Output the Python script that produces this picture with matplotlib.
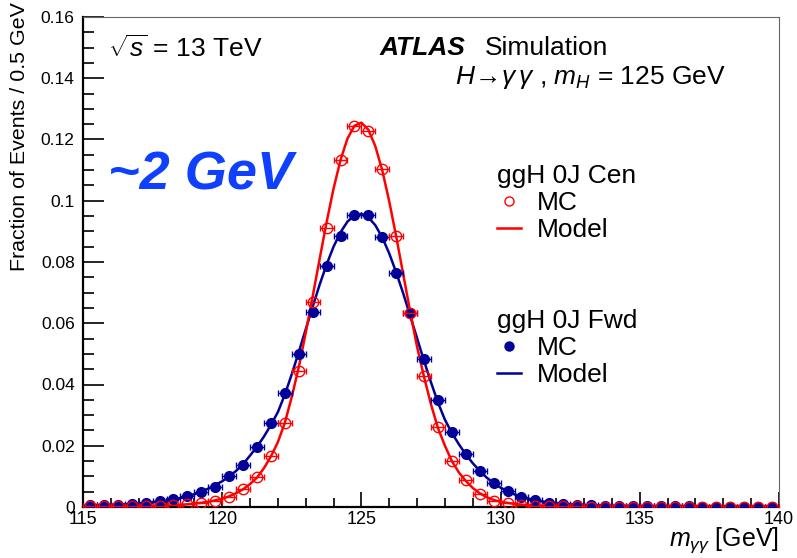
import numpy as np
import matplotlib
matplotlib.use("Agg")
import matplotlib.pyplot as plt
from matplotlib.lines import Line2D
from matplotlib.ticker import MultipleLocator, FuncFormatter

plt.rcParams['font.family'] = ['Liberation Sans', 'DejaVu Sans']
plt.rcParams['mathtext.fontset'] = 'custom'
plt.rcParams['mathtext.rm'] = 'Liberation Sans'
plt.rcParams['mathtext.it'] = 'Liberation Sans:italic'
plt.rcParams['mathtext.bf'] = 'Liberation Sans:bold'

# bin centres, 0.5 GeV bins
bin_centres = np.arange(115.25, 140.0, 0.5)

# MC, ggH 0J Cen (open red circles)
mc_cen = [0.0002, 0.0002, 0.0002, 0.0002, 0.0003, 0.0003, 0.0005, 0.0009, 0.0014, 0.0020,
          0.0034, 0.0059, 0.0097, 0.0167, 0.0275, 0.0444, 0.0670, 0.0910, 0.1133, 0.1245,
          0.1227, 0.1103, 0.0885, 0.0634, 0.0428, 0.0262, 0.0151, 0.0088, 0.0044, 0.0021,
          0.0012, 0.0006, 0.0004, 0.0003, 0.0002, 0.0002, 0.0001, 0.0001, 0.0001, 0.0001,
          0.0001, 0.0001, 0.0001, 0.0001, 0.0001, 0.0001, 0.0001, 0.0001, 0.0001, 0.0001]

# MC, ggH 0J Fwd (filled blue dots)
mc_fwd = [0.0006, 0.0007, 0.0007, 0.0010, 0.0013, 0.0018, 0.0025, 0.0035, 0.0050, 0.0066,
          0.0101, 0.0138, 0.0197, 0.0273, 0.0373, 0.0500, 0.0638, 0.0788, 0.0886, 0.0953,
          0.0955, 0.0881, 0.0765, 0.0632, 0.0482, 0.0349, 0.0246, 0.0173, 0.0119, 0.0077,
          0.0052, 0.0034, 0.0022, 0.0014, 0.0010, 0.0008, 0.0005, 0.0004, 0.0003, 0.0003,
          0.0002, 0.0002, 0.0002, 0.0002, 0.0001, 0.0001, 0.0001, 0.0001, 0.0001, 0.0001]

# model curves
model_x = [115.0, 116.0, 117.0, 118.0, 118.5, 119.0, 119.5, 120.0, 120.25, 120.5, 120.75,
           121.0, 121.25, 121.5, 121.75, 122.0, 122.25, 122.5, 122.75, 123.0, 123.25,
           123.5, 123.75, 124.0, 124.25, 124.5, 124.75, 125.0, 125.25, 125.5, 125.75,
           126.0, 126.25, 126.5, 126.75, 127.0, 127.25, 127.5, 127.75, 128.0, 128.25,
           128.5, 128.75, 129.0, 129.25, 129.5, 129.75, 130.0, 130.5, 131.0, 131.5,
           132.0, 133.0, 134.0, 136.0, 140.0]
model_cen = [0.00005, 0.0001, 0.0002, 0.0004, 0.0007, 0.0011, 0.0017, 0.0027, 0.0035, 0.0045, 0.0058,
             0.0075, 0.0096, 0.0127, 0.0165, 0.0212, 0.0275, 0.0360, 0.0456, 0.0569, 0.0688,
             0.0810, 0.0930, 0.1040, 0.1133, 0.1203, 0.1245, 0.1255, 0.1232, 0.1178, 0.1099,
             0.0998, 0.0883, 0.0761, 0.0639, 0.0523, 0.0425, 0.0335, 0.0258, 0.0200, 0.0150,
             0.0113, 0.0085, 0.0062, 0.0045, 0.0032, 0.0023, 0.0017, 0.0010, 0.0006, 0.0004,
             0.0003, 0.0002, 0.00015, 0.0001, 0.00005]
model_fwd = [0.0004, 0.0007, 0.0011, 0.0020, 0.0029, 0.0042, 0.0060, 0.0084, 0.0100, 0.0118, 0.0140,
             0.0168, 0.0197, 0.0230, 0.0268, 0.0310, 0.0367, 0.0434, 0.0506, 0.0580, 0.0654,
             0.0726, 0.0792, 0.0850, 0.0897, 0.0932, 0.0952, 0.0957, 0.0946, 0.0920, 0.0880,
             0.0828, 0.0766, 0.0698, 0.0625, 0.0551, 0.0477, 0.0407, 0.0341, 0.0285, 0.0242,
             0.0205, 0.0172, 0.0143, 0.0118, 0.0096, 0.0078, 0.0063, 0.0041, 0.0027, 0.0018,
             0.0012, 0.0006, 0.0004, 0.0002, 0.0001]

red = '#ff0000'
blue = '#000099'

W, H = 797, 558
fig = plt.figure(figsize=(W / 100, H / 100), dpi=100)
ax = fig.add_axes([83 / W, 1 - 507 / H, (779 - 83) / W, (507 - 17) / H])

def fpx(x, y):
    return x / W, 1 - y / H

ax.plot(model_x, model_fwd, color=blue, lw=1.8, zorder=2)
ax.plot(model_x, model_cen, color=red, lw=1.8, zorder=2)
ax.errorbar(bin_centres, mc_fwd, xerr=0.25, fmt='o', color=blue, ms=7, elinewidth=1,
            capsize=2, capthick=1, zorder=3)
ax.errorbar(bin_centres, mc_cen, xerr=0.25, fmt='o', mfc='none', mec=red, ecolor=red,
            ms=7.5, mew=1, elinewidth=1, capsize=2, capthick=1, zorder=4)

ax.set_xlim(115, 140)
ax.set_ylim(0, 0.16)
ax.xaxis.set_major_locator(MultipleLocator(5))
ax.xaxis.set_minor_locator(MultipleLocator(1))
ax.yaxis.set_major_locator(MultipleLocator(0.02))
ax.yaxis.set_minor_locator(MultipleLocator(0.005))
ax.yaxis.set_major_formatter(FuncFormatter(lambda v, p: '%g' % round(v, 3)))
ax.tick_params(which='both', direction='in', top=False, right=False, width=1.2)
ax.tick_params(axis='x', which='major', length=11, labelsize=13, pad=3)
ax.tick_params(axis='x', which='minor', length=6.5)
ax.tick_params(axis='y', which='major', length=15, labelsize=12.5, pad=6)
ax.tick_params(axis='y', which='minor', length=8)
for s in ['left', 'bottom']:
    ax.spines[s].set_linewidth(1.6)
for s in ['top', 'right']:
    ax.spines[s].set_linewidth(0.8)
    ax.spines[s].set_color('#666666')

fig.text(*fpx(20, 2), 'Fraction of Events / 0.5 GeV', rotation=90, ha='center', va='top', fontsize=15.4)
fig.text(*fpx(779, 546), r'$m_{\gamma\gamma}$ [GeV]', ha='right', va='baseline', fontsize=18)

fig.text(*fpx(108, 57), r'$\sqrt{s}$ = 13 TeV', fontsize=19, va='baseline')
fig.text(*fpx(380, 55), 'ATLAS', fontsize=19, weight='bold', style='italic', va='baseline')
fig.text(*fpx(485, 55), 'Simulation', fontsize=19, va='baseline')
fig.text(*fpx(455, 84), r'$H\!\rightarrow\!\gamma\,\gamma$ , $m_{H}$ = 125 GeV', fontsize=19, va='baseline')
fig.text(*fpx(108, 190), '~2 GeV', fontsize=39, weight='bold', style='italic', color='#1040ff', va='baseline')

h_cen = [Line2D([], [], ls='none', marker='o', mfc='none', mec=red, ms=6.5, mew=1),
         Line2D([], [], color=red, lw=1.8)]
h_fwd = [Line2D([], [], ls='none', marker='o', color=blue, ms=6.5),
         Line2D([], [], color=blue, lw=1.8)]
leg_kw = dict(frameon=False, fontsize=19, title_fontsize=19, alignment='left',
              handlelength=0.9, handletextpad=0.6, labelspacing=0.12, borderpad=0,
              borderaxespad=0, loc='upper left', bbox_transform=fig.transFigure)
leg1 = ax.legend(h_cen, ['MC', 'Model'], title='ggH 0J Cen', bbox_to_anchor=fpx(497, 164), **leg_kw)
ax.add_artist(leg1)
ax.legend(h_fwd, ['MC', 'Model'], title='ggH 0J Fwd', bbox_to_anchor=fpx(497, 309), **leg_kw)

fig.savefig('out.png', dpi=100)
